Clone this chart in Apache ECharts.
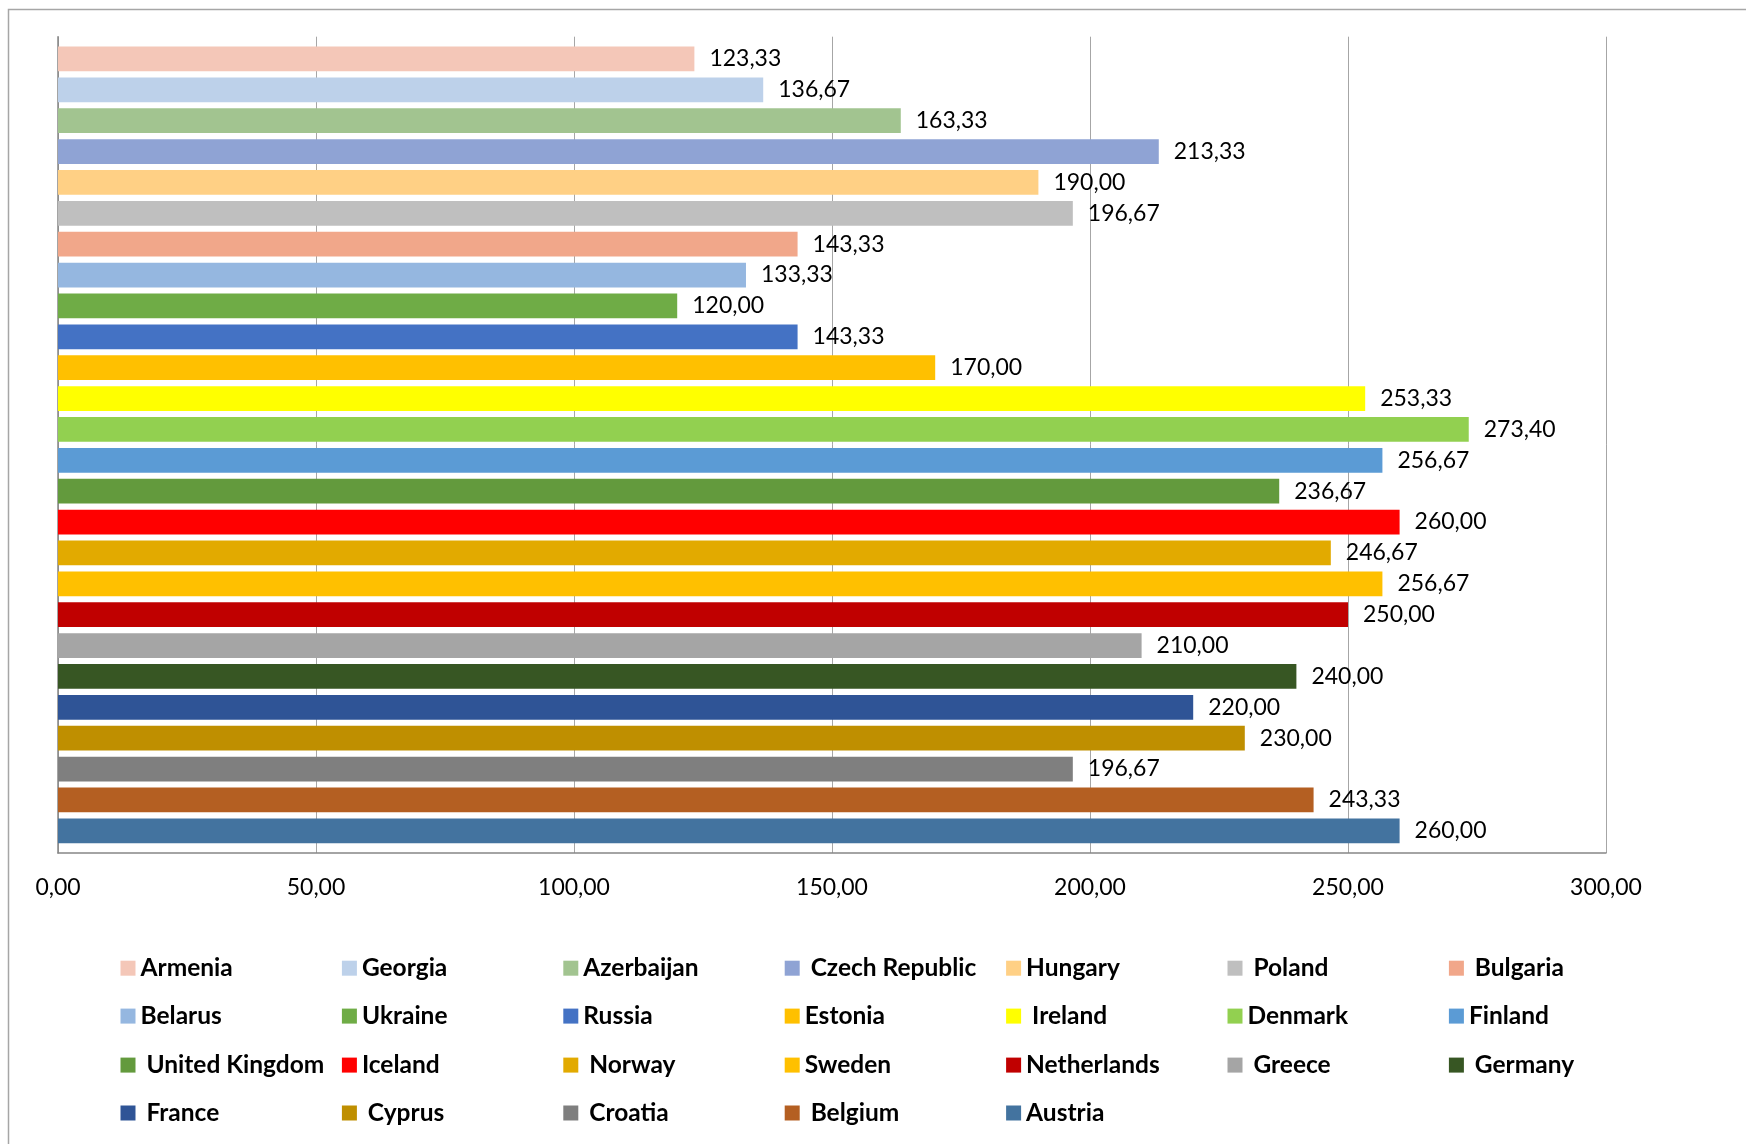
<!DOCTYPE html>
<html>
<head>
<meta charset="utf-8">
<script src="https://cdn.jsdelivr.net/npm/echarts@6/dist/echarts.min.js"></script>
<style>
html,body{margin:0;padding:0;background:#fff;}
#c{width:1746px;height:1144px;}
</style>
</head>
<body>
<div id="c"></div>
<script>
// Series names (top to bottom), as in the legend
const countries = ['Armenia','Georgia','Azerbaijan',' Czech Republic','Hungary',' Poland',' Bulgaria',
  'Belarus','Ukraine','Russia','Estonia',' Ireland','Denmark','Finland',
  ' United Kingdom','Iceland',' Norway','Sweden','Netherlands',' Greece',' Germany',
  ' France',' Cyprus',' Croatia',' Belgium','Austria'];
const values = [123.33,136.67,163.33,213.33,190.00,196.67,143.33,
  133.33,120.00,143.33,170.00,253.33,273.40,256.67,
  236.67,260.00,246.67,256.67,250.00,210.00,240.00,
  220.00,230.00,196.67,243.33,260.00];
const colors = ['#F4C7B8','#BDD1EA','#A2C490','#8FA3D4','#FFD085','#BFBFBF','#F1A78A',
  '#95B7E0','#6FAC46','#4472C4','#FFC000','#FFFF00','#92D050','#5B9BD5',
  '#639A3D','#FF0000','#E2AA00','#FFC000','#C00000','#A5A5A5','#375623',
  '#2F5496','#BF8F00','#7F7F7F','#B45F22','#43739F'];
const xTicks = {min:0, max:300, interval:50};

const fmt = v => Number(v).toFixed(2).replace('.', ',');
const FONT = 'Lato';

const chart = echarts.init(document.getElementById('c'), null, {renderer:'canvas'});

const series = countries.map((name, i) => ({
  name: name,
  type: 'bar',
  data: [values[i]],
  itemStyle: {color: colors[i]},
  barWidth: 24.7,
  barGap: '25%',
  label: {
    show: true, position: 'right', distance: 15,
    formatter: p => fmt(p.value),
    fontFamily: FONT, fontSize: 23, color: '#000'
  }
}));

const rowTops = [963.2, 1011.1, 1060.1, 1108.0];
const legends = rowTops.map((cy, r) => ({
  data: countries.slice(r*7, r*7+7),
  orient: 'horizontal',
  left: 115.5, top: cy - 14,
  itemWidth: 15, itemHeight: 15, itemGap: 0,
  icon: 'rect',
  selectedMode: false,
  textStyle: {fontFamily: FONT, fontSize: 24.5, fontWeight: 'bold', color: '#000',
    width: 201.4, overflow: 'none', lineHeight: 28}
}));

chart.setOption({
  backgroundColor: '#fff',
  animation: false,
  graphic: [{
    type: 'rect', silent: true,
    shape: {x: 8.5, y: 9.5, width: 3000, height: 3000},
    style: {fill: 'none', stroke: '#a6a6a6', lineWidth: 1.5}
  }],
  grid: {left: 58, top: 36.7, width: 1548, height: 816.3},
  xAxis: {
    type: 'value', min: xTicks.min, max: xTicks.max, interval: xTicks.interval,
    axisLine: {show: true, lineStyle: {color: '#868686', width: 1.5}},
    axisTick: {show: false},
    splitLine: {show: true, lineStyle: {color: '#a6a6a6', width: 1}},
    axisLabel: {formatter: v => fmt(v), fontFamily: FONT, fontSize: 23, color: '#000', margin: 23}
  },
  yAxis: {
    type: 'category', data: [''], inverse: true,
    axisLine: {show: true, lineStyle: {color: '#868686', width: 1.5}},
    axisTick: {show: false},
    axisLabel: {show: false},
    splitLine: {show: false}
  },
  legend: legends,
  series: series
});
</script>
</body>
</html>
